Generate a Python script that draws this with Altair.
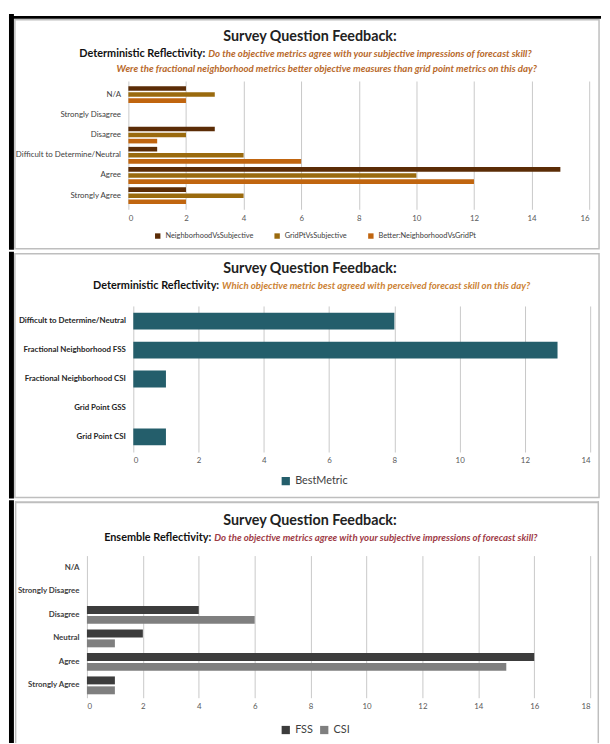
import altair as alt
import pandas as pd

FONT = "Lato"

# ---------------- data ----------------
p1_categories = ["N/A", "Strongly Disagree", "Disagree",
                 "Difficult to Determine/Neutral", "Agree", "Strongly Agree"]
p1_series = ["NeighborhoodVsSubjective", "GridPtVsSubjective", "Better:NeighborhoodVsGridPt"]
p1_neighborhood = [2, 0, 3, 1, 15, 2]
p1_gridpt = [3, 0, 2, 4, 10, 4]
p1_better = [2, 0, 1, 6, 12, 2]
p1_colors = ["#5B2C06", "#9A6A0E", "#C0650F"]
p1_ticks = [0, 2, 4, 6, 8, 10, 12, 14, 16]

p2_categories = ["Difficult to Determine/Neutral", "Fractional Neighborhood FSS",
                 "Fractional Neighborhood CSI", "Grid Point GSS", "Grid Point CSI"]
p2_series = ["BestMetric"]
p2_values = [8, 13, 1, 0, 1]
p2_colors = ["#245E6B"]
p2_ticks = [0, 2, 4, 6, 8, 10, 12, 14]

p3_categories = ["N/A", "Strongly Disagree", "Disagree", "Neutral", "Agree", "Strongly Agree"]
p3_series = ["FSS", "CSI"]
p3_fss = [0, 0, 4, 2, 16, 1]
p3_csi = [0, 0, 6, 1, 15, 1]
p3_colors = ["#3C3C3C", "#7F7F7F"]
p3_ticks = [0, 2, 4, 6, 8, 10, 12, 14, 16, 18]

TITLE = "Survey Question Feedback:"
P1_LEAD = "Deterministic Reflectivity:"
P1_Q1 = "Do the objective metrics agree with your subjective impressions  of forecast skill?"
P1_Q2 = "Were the fractional neighborhood  metrics better objective measures than grid point metrics on this day?"
P2_LEAD = "Deterministic Reflectivity:"
P2_Q = "Which objective metric best agreed with perceived forecast skill on this day?"
P3_LEAD = "Ensemble Reflectivity:"
P3_Q = "Do the objective metrics agree with your subjective impressions  of forecast skill?"

PANEL_W = 592
GRAY = "#BEBEBE"


def long_df(cats, series, cols):
    rows = []
    for s, vals in zip(series, cols):
        for c, v in zip(cats, vals):
            rows.append({"category": c, "series": s, "value": v})
    return pd.DataFrame(rows)


df1 = long_df(p1_categories, p1_series, [p1_neighborhood, p1_gridpt, p1_better])
df2 = long_df(p2_categories, p2_series, [p2_values])
df3 = long_df(p3_categories, p3_series, [p3_fss, p3_csi])


def one():
    return alt.Data(values=[{"k": 1}])


def txt(s, x, y, size, color, weight="normal", style="normal", align="center"):
    return alt.Chart(one()).mark_text(
        text=s, font=FONT, fontSize=size, color=color, fontWeight=weight,
        fontStyle=style, align=align, baseline="middle"
    ).encode(x=alt.value(x), y=alt.value(y))


def box(x, x2, y, y2, fill="#000000"):
    return alt.Chart(one()).mark_rect(fill=fill).encode(
        x=alt.value(x), x2=alt.value(x2), y=alt.value(y), y2=alt.value(y2))


def frame(x, x2, y, y2, color=GRAY, sw=1.5):
    return alt.Chart(one()).mark_rect(fillOpacity=0, stroke=color, strokeWidth=sw).encode(
        x=alt.value(x), x2=alt.value(x2), y=alt.value(y), y2=alt.value(y2))


def xaxis(ticks):
    return alt.Axis(values=ticks, grid=True, gridColor="#C8C8C8", gridWidth=1,
                    domain=False, ticks=False, labelFontSize=8, labelColor="#595959",
                    labelFont=FONT, title=None, labelPadding=5)


def yaxis(bold, color, offset):
    return alt.Axis(title=None, ticks=False, domain=False, labelFontSize=8,
                    labelPadding=8, labelColor=color, labelFont=FONT, labelLimit=0,
                    offset=offset, labelFontWeight="bold" if bold else "normal")


# ---------------- panel 1 ----------------
bars1 = alt.Chart(df1).mark_bar().encode(
    x=alt.X("value:Q", scale=alt.Scale(domain=[0, 16], nice=False, range=[115, 582]),
            axis=xaxis(p1_ticks)),
    y=alt.Y("category:N", sort=p1_categories,
            scale=alt.Scale(paddingInner=0.17, paddingOuter=0.255),
            axis=yaxis(False, "#404040", -115)),
    yOffset=alt.YOffset("series:N", sort=p1_series, scale=alt.Scale(paddingInner=0.24)),
    color=alt.Color("series:N", scale=alt.Scale(domain=p1_series, range=p1_colors),
                    legend=alt.Legend(orient="none", legendX=141, legendY=153,
                                      direction="horizontal", title=None,
                                      symbolType="square", symbolSize=30,
                                      labelFontSize=7.5, labelFont=FONT,
                                      labelColor="#404040", columnPadding=20,
                                      padding=0, symbolStrokeWidth=0)),
)

panel1 = alt.layer(
    box(-6, -1, -68, 171),
    box(-6, 594, -66, -63),
    frame(0, PANEL_W, -62, 170),
    bars1,
    txt(TITLE, 299, -45, 14.5, "#222222", weight="bold"),
    txt(P1_LEAD, 193, -27, 11, "#111111", weight="bold", align="right"),
    txt(P1_Q1, 196, -27, 9.8, "#B8692B", weight="bold", style="italic", align="left"),
    txt(P1_Q2, 316, -12, 9.8, "#B8692B", weight="bold", style="italic"),
).properties(width=PANEL_W, height=130)

# ---------------- panel 2 ----------------
bars2 = alt.Chart(df2).mark_bar().encode(
    x=alt.X("value:Q", scale=alt.Scale(domain=[0, 14], nice=False, range=[120, 583]),
            axis=xaxis(p2_ticks)),
    y=alt.Y("category:N", sort=p2_categories,
            scale=alt.Scale(paddingInner=0.42, paddingOuter=0.235),
            axis=yaxis(True, "#262626", -120)),
    color=alt.Color("series:N", scale=alt.Scale(domain=p2_series, range=p2_colors),
                    legend=alt.Legend(orient="none", legendX=269, legendY=172,
                                      direction="horizontal", title=None,
                                      symbolType="square", symbolSize=70,
                                      labelFontSize=11, labelFont=FONT,
                                      labelColor="#404040", padding=0,
                                      symbolStrokeWidth=0)),
)

panel2 = alt.layer(
    box(-6, -1, -55, 195),
    frame(0, PANEL_W, -53, 194),
    bars2,
    txt(TITLE, 299, -37, 14.5, "#222222", weight="bold"),
    txt(P2_LEAD, 207, -20, 11, "#111111", weight="bold", align="right"),
    txt(P2_Q, 210, -20, 9.8, "#CC8233", weight="bold", style="italic", align="left"),
).properties(width=PANEL_W, height=148)

# ---------------- panel 3 ----------------
bars3 = alt.Chart(df3).mark_bar().encode(
    x=alt.X("value:Q", scale=alt.Scale(domain=[0, 18], nice=False, range=[73, 583]),
            axis=xaxis(p3_ticks)),
    y=alt.Y("category:N", sort=p3_categories,
            scale=alt.Scale(paddingInner=0.24, paddingOuter=0.145),
            axis=yaxis(True, "#404040", -73)),
    yOffset=alt.YOffset("series:N", sort=p3_series, scale=alt.Scale(paddingInner=0.2)),
    color=alt.Color("series:N", scale=alt.Scale(domain=p3_series, range=p3_colors),
                    legend=alt.Legend(orient="none", legendX=269, legendY=171,
                                      direction="horizontal", title=None,
                                      symbolType="square", symbolSize=70,
                                      labelFontSize=11, labelFont=FONT,
                                      labelColor="#404040", columnPadding=6,
                                      padding=0, symbolStrokeWidth=0)),
)

panel3 = alt.layer(
    box(-6, -1, -56, 190),
    box(0, PANEL_W, -55, -53, fill=GRAY),
    box(0, 1.5, -55, 190, fill=GRAY),
    box(PANEL_W - 1.5, PANEL_W, -55, 190, fill=GRAY),
    bars3,
    txt(TITLE, 299, -35, 14.5, "#222222", weight="bold"),
    txt(P3_LEAD, 199, -18, 11, "#111111", weight="bold", align="right"),
    txt(P3_Q, 202, -18, 9.8, "#9E3B46", weight="bold", style="italic", align="left"),
).properties(width=PANEL_W, height=144)

chart = alt.vconcat(panel1, panel2, panel3, spacing=0).resolve_scale(
    x="independent", y="independent", yOffset="independent", color="independent"
).resolve_legend(color="independent").properties(
    padding=0, background="white"
).configure_view(stroke="transparent")

chart.save("out.html", embed_options={"renderer": "svg", "actions": False})
